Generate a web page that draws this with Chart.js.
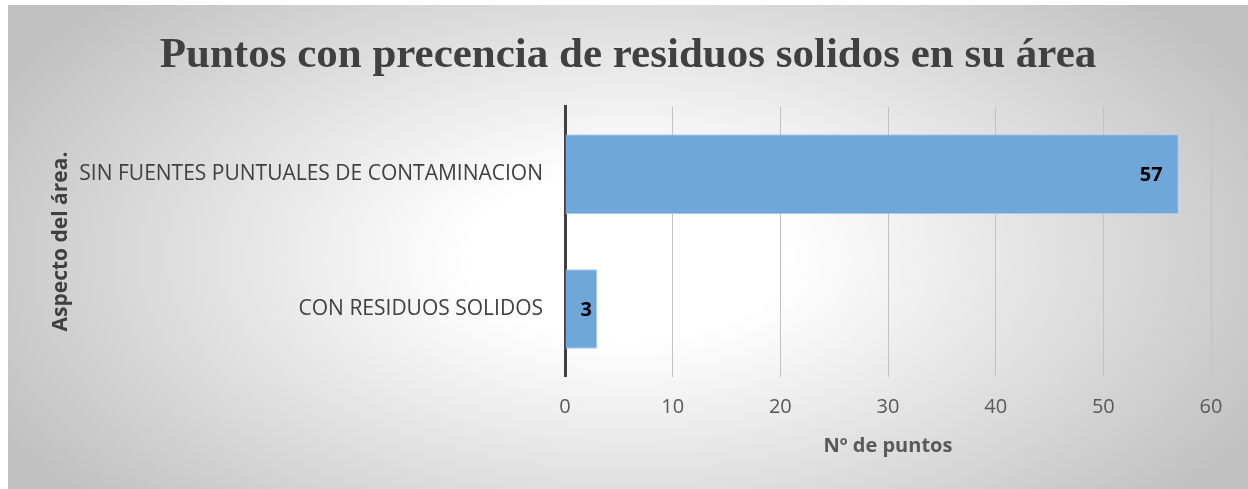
<!DOCTYPE html>
<html>
<head>
<meta charset="utf-8">
<script src="https://cdn.jsdelivr.net/npm/chart.js@4"></script>
<style>
  html, body { margin: 0; padding: 0; background: #ffffff; }
  #box {
    position: absolute; left: 8px; top: 5px; width: 1240px; height: 484px;
    background: radial-gradient(ellipse 58% 78% at 50% 52%, #ffffff 0%, #ffffff 22%, #c0c0c0 100%);
  }
</style>
</head>
<body>
<div id="box"><canvas id="myChart" width="1240" height="484"></canvas></div>
<script>
// datos del grafico
var categorias = ['SIN FUENTES PUNTUALES DE CONTAMINACION', 'CON RESIDUOS SOLIDOS'];
var puntos = [57, 3];
var ticksX = [0, 10, 20, 30, 40, 50, 60];

// etiquetas de valor dentro de la barra (extremo interior)
var etiquetas = {
  id: 'etiquetas',
  afterDatasetsDraw: function (chart) {
    var ctx = chart.ctx;
    var meta = chart.getDatasetMeta(0);
    ctx.save();
    ctx.font = 'bold 20px "Open Sans"';
    ctx.fillStyle = '#000000';
    ctx.textAlign = 'right';
    ctx.textBaseline = 'middle';
    meta.data.forEach(function (bar, i) {
      var txt = String(chart.data.datasets[0].data[i]);
      var w = ctx.measureText(txt).width;
      var right = Math.max(bar.x - 16, bar.base + 15 + w);
      ctx.fillText(txt, right, bar.y + 1);
    });
    ctx.restore();
  }
};

var ctx = document.getElementById('myChart');
var myChart = new Chart(ctx, {
  type: 'bar',
  data: {
    labels: categorias,
    datasets: [{
      data: puntos,
      backgroundColor: '#70a7d9',
      borderColor: '#a9cbea',
      borderWidth: 1,
      categoryPercentage: 1,
      barPercentage: 0.59
    }]
  },
  plugins: [etiquetas],
  options: {
    indexAxis: 'y',
    responsive: false,
    animation: false,
    layout: { padding: { right: 37, left: 37, top: 0, bottom: 0 } },
    plugins: {
      legend: { display: false },
      tooltip: { enabled: false },
      title: {
        display: true,
        text: 'Puntos con precencia de residuos solidos en su área',
        color: '#404040',
        font: { family: '"Liberation Serif", "Times New Roman", serif', size: 43, weight: 'bold' },
        padding: { top: 25, bottom: 25 }
      }
    },
    scales: {
      x: {
        min: 0,
        max: 60,
        afterBuildTicks: function (scale) {
          scale.ticks = ticksX.map(function (v) { return { value: v }; });
        },
        afterFit: function (scale) { scale.height = 112.5; },
        grid: {
          color: '#c2c2c2',
          lineWidth: 1,
          drawTicks: false
        },
        border: { display: false },
        ticks: {
          color: '#595959',
          padding: 19,
          font: { family: '"Open Sans"', size: 20 }
        },
        title: {
          display: true,
          text: 'Nº de puntos',
          color: '#595959',
          font: { family: '"Open Sans"', size: 20, weight: 'bold' },
          padding: { bottom: 31 }
        }
      },
      y: {
        afterFit: function (scale) { scale.width = 520; },
        grid: { display: false, drawTicks: false },
        border: { display: true, color: '#404040', width: 3 },
        ticks: {
          color: '#404040',
          padding: 22,
          font: { family: '"Open Sans"', size: 21 }
        },
        title: {
          display: true,
          text: 'Aspecto del área.',
          color: '#404040',
          font: { family: '"Open Sans"', size: 21, weight: 'bold' },
          padding: { top: 3 }
        }
      }
    }
  }
});
</script>
</body>
</html>
